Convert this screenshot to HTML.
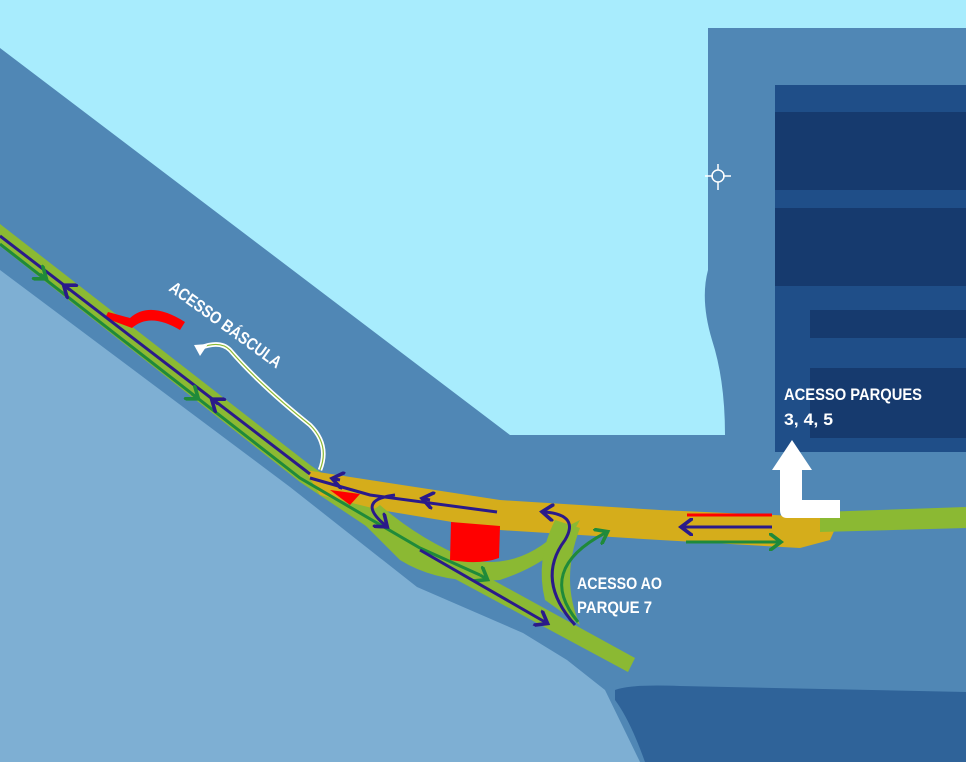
<!DOCTYPE html>
<html><head><meta charset="utf-8"><style>
html,body{margin:0;padding:0;width:966px;height:762px;overflow:hidden;background:#5087b5}
svg{display:block}
text{font-family:"Liberation Sans Narrow","Liberation Sans",sans-serif;font-weight:bold;fill:#fff}
</style></head><body>
<svg width="966" height="762" viewBox="0 0 966 762" xmlns="http://www.w3.org/2000/svg">
<defs>
<marker id="ab" markerWidth="6" markerHeight="6" refX="3" refY="3" orient="auto" markerUnits="strokeWidth"><path d="M0,0 L4,3 L0,6" fill="none" stroke="#2a1a8a" stroke-width="1.2"/></marker>
<marker id="ag" markerWidth="6" markerHeight="6" refX="3" refY="3" orient="auto" markerUnits="strokeWidth"><path d="M0,0 L4,3 L0,6" fill="none" stroke="#1f8a3a" stroke-width="1.2"/></marker>
</defs>
<rect width="966" height="762" fill="#5087b5"/>
<path d="M0,0 H966 V28 H708 V270 Q700,300 712,340 Q725,380 725,435 H510 L0,48 Z" fill="#a8ecfd"/>
<path d="M0,270 L290,487 L417,587 L523,633 L567,660 L605,690 L640,762 H0 Z" fill="#7eafd3"/>
<path d="M615,690 Q630,684 680,686 L966,692 V762 H645 Q630,720 615,700 Z" fill="#2f6399"/>
<rect x="775" y="85" width="191" height="367" fill="#1f4e88"/>
<rect x="775" y="112" width="191" height="78" fill="#163a6e"/>
<rect x="775" y="208" width="191" height="78" fill="#163a6e"/>
<rect x="810" y="310" width="156" height="28" fill="#163a6e"/>
<rect x="810" y="368" width="156" height="70" fill="#163a6e"/>
<g stroke="#fff" stroke-width="1.5" fill="none"><circle cx="718" cy="176" r="6"/><path d="M705,176h8M723,176h8M718,164v6M718,182v8"/></g>
<path d="M0,224 L310,465 L420,540 L635,658 L628,672 L405,552 L300,482 L0,246 Z" fill="#8bb933"/>
<path d="M305,470 L500,500 L660,510 L840,518 L830,540 L800,548 L660,540 L500,530 L380,510 L320,495 Z" fill="#d5ad1b"/>
<path d="M380,505 Q420,540 470,560 Q520,570 560,530 L580,520 Q560,560 500,580 Q440,585 400,560 L360,520 Z" fill="#8bb933"/>
<path d="M555,520 Q535,560 545,600 L580,625 Q560,580 580,528 Z" fill="#8bb933"/>
<path d="M820,512 L966,507 V528 L820,532 Z" fill="#8bb933"/>
<path d="M330,490 L360,494 L350,505 Z" fill="#ff0000"/>
<path d="M451,522 L500,526 L499,558 Q480,565 450,560 Z" fill="#ff0000"/>
<path d="M108,312 L130,318 Q150,300 185,322 L180,330 Q150,312 132,328 L105,318 Z" fill="#ff0000"/>
<path d="M320,470 Q330,445 310,425 Q260,385 230,350 Q220,340 200,348" fill="none" stroke="#fff" stroke-width="4.5"/>
<path d="M320,470 Q330,445 310,425 Q260,385 230,350 Q220,340 200,348" fill="none" stroke="#8bb933" stroke-width="1.2"/>
<path d="M194,345 L200,356 L208,344 Z" fill="#fff"/>
<path d="M0,236 L310,474" stroke="#2a1a8a" stroke-width="3" fill="none"/>
<path d="M0,244 L300,478 L420,548 L480,575" stroke="#1f8a3a" stroke-width="3" fill="none"/>
<path d="M480,575 L485,578" stroke="#1f8a3a" stroke-width="3" marker-end="url(#ag)"/>
<path d="M310,478 L370,495 L497,512" stroke="#2a1a8a" stroke-width="3" fill="none"/>
<path d="M430,500 L425,499" stroke="#2a1a8a" stroke-width="3" marker-end="url(#ab)"/>
<path d="M340,480 L335,479" stroke="#2a1a8a" stroke-width="3" marker-end="url(#ab)"/>
<path d="M395,495 Q355,500 385,525" stroke="#2a1a8a" stroke-width="3" fill="none" marker-end="url(#ab)"/>
<path d="M420,550 L545,622" stroke="#2a1a8a" stroke-width="3" marker-end="url(#ab)"/>
<path d="M575,625 Q535,580 565,540 Q580,515 545,512" stroke="#2a1a8a" stroke-width="3" fill="none" marker-end="url(#ab)"/>
<path d="M578,622 Q535,570 605,533" stroke="#1f8a3a" stroke-width="3" fill="none" marker-end="url(#ag)"/>
<path d="M70,290 L66,287" stroke="#2a1a8a" stroke-width="3" marker-end="url(#ab)"/>
<path d="M218,404 L214,401" stroke="#2a1a8a" stroke-width="3" marker-end="url(#ab)"/>
<path d="M40,274 L44,277" stroke="#1f8a3a" stroke-width="3" marker-end="url(#ag)"/>
<path d="M192,394 L196,397" stroke="#1f8a3a" stroke-width="3" marker-end="url(#ag)"/>
<path d="M687,515 H772" stroke="#ff0000" stroke-width="3"/>
<path d="M772,527 H684" stroke="#2a1a8a" stroke-width="3" marker-end="url(#ab)"/>
<path d="M686,542 H778" stroke="#1f8a3a" stroke-width="3" marker-end="url(#ag)"/>
<path d="M787,500 H840 V518 H787 Q780,518 780,510 V470 H772 L792,440 L812,470 H802 V500 Z" fill="#fff"/>
<text x="0" y="0" font-size="17" textLength="134" lengthAdjust="spacingAndGlyphs" transform="translate(168,290) rotate(36)">ACESSO BÁSCULA</text>
<text x="577" y="589" font-size="17" textLength="85" lengthAdjust="spacingAndGlyphs">ACESSO AO</text>
<text x="577" y="613" font-size="17" textLength="75" lengthAdjust="spacingAndGlyphs">PARQUE 7</text>
<text x="784" y="400" font-size="17" textLength="138" lengthAdjust="spacingAndGlyphs">ACESSO PARQUES</text>
<text x="784" y="425" font-size="17" textLength="49" lengthAdjust="spacingAndGlyphs">3, 4, 5</text>
</svg>
</body></html>
